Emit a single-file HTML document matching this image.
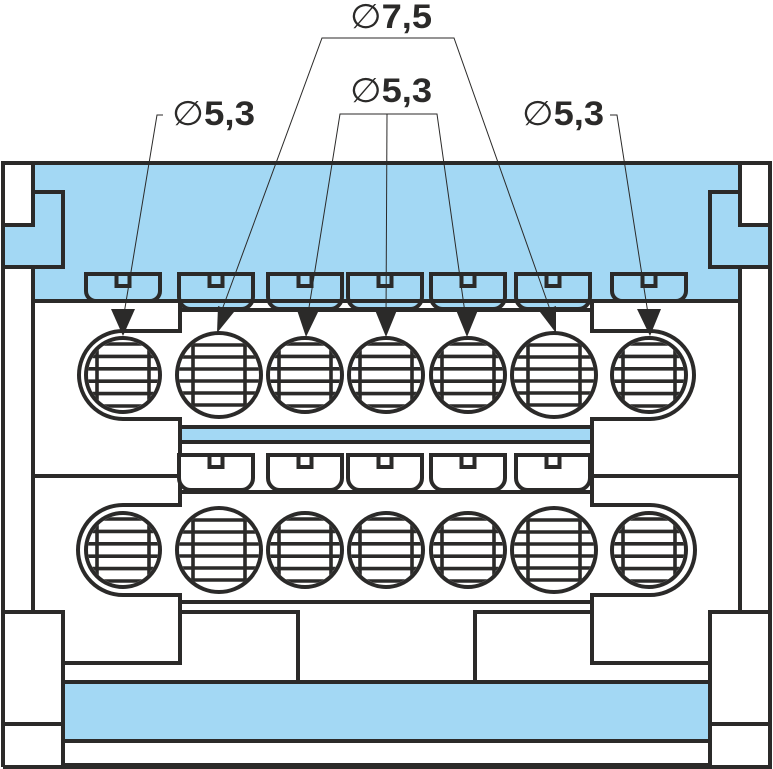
<!DOCTYPE html>
<html><head><meta charset="utf-8"><style>
html,body{margin:0;padding:0;background:#fff;}
svg{display:block;}
text{font-family:"Liberation Sans Narrow","Liberation Sans",sans-serif;font-weight:bold;fill:#2b2a29;}
</style></head><body>
<svg width="773" height="769" viewBox="0 0 773 769" xmlns="http://www.w3.org/2000/svg">
<defs>
<clipPath id="cs"><circle cx="0" cy="0" r="35"/></clipPath>
<clipPath id="cb"><circle cx="0" cy="0" r="40"/></clipPath>
<g id="hs">
 <circle cx="0" cy="0" r="37" fill="#fff" stroke="#2b2a29" stroke-width="4"/>
 <g clip-path="url(#cs)" stroke="#2b2a29" stroke-width="3.6">
  <line x1="-26" y1="-40" x2="-26" y2="40"/><line x1="26" y1="-40" x2="26" y2="40"/>
  <line x1="-40" y1="-31" x2="40" y2="-31"/><line x1="-40" y1="-18.6" x2="40" y2="-18.6"/>
  <line x1="-40" y1="-6.2" x2="40" y2="-6.2"/><line x1="-40" y1="6.2" x2="40" y2="6.2"/>
  <line x1="-40" y1="18.6" x2="40" y2="18.6"/><line x1="-40" y1="31" x2="40" y2="31"/>
 </g>
</g>
<g id="hb">
 <circle cx="0" cy="0" r="42" fill="#fff" stroke="#2b2a29" stroke-width="4"/>
 <g clip-path="url(#cb)" stroke="#2b2a29" stroke-width="3.6">
  <line x1="-26" y1="-45" x2="-26" y2="45"/><line x1="26" y1="-45" x2="26" y2="45"/>
  <line x1="-45" y1="-30" x2="45" y2="-30"/><line x1="-45" y1="-18" x2="45" y2="-18"/>
  <line x1="-45" y1="-6" x2="45" y2="-6"/><line x1="-45" y1="6" x2="45" y2="6"/>
  <line x1="-45" y1="18" x2="45" y2="18"/><line x1="-45" y1="30" x2="45" y2="30"/>
 </g>
</g>
<path id="tabS" d="M-37,0 H37 V17 A10,10 0 0 1 27,27 H-27 A10,10 0 0 1 -37,17 Z"/>
<path id="tabL" d="M-37,0 H37 V23 A12,12 0 0 1 25,35 H-25 A12,12 0 0 1 -37,23 Z"/>
<rect id="notch" x="-6.5" y="0" width="13" height="12"/>
</defs>

<rect x="3" y="163" width="767" height="138" fill="#a3d8f4"/>
<rect x="3" y="163" width="30" height="62" fill="#fff"/>
<rect x="740" y="163" width="30" height="62" fill="#fff"/>
<rect x="3" y="267" width="30" height="34" fill="#fff"/>
<rect x="740" y="267" width="30" height="34" fill="#fff"/>
<rect x="180" y="427" width="412" height="15" fill="#a3d8f4"/>
<rect x="63" y="682" width="647" height="59" fill="#a3d8f4"/>

<g fill="none" stroke="#2b2a29" stroke-width="4">
 <path d="M3,767 V163 H770 V767 H3"/>
 <path d="M33,163 V225 H3"/>
 <path d="M33,192 H63 V267 H3"/>
 <path d="M740,163 V225 H770"/>
 <path d="M740,192 H710 V267 H770"/>
 <line x1="33" y1="267" x2="33" y2="612"/>
 <line x1="740" y1="267" x2="740" y2="612"/>
 <line x1="33" y1="301" x2="740" y2="301"/>
 <line x1="180" y1="310" x2="592" y2="310"/>
 <path d="M180,301 V331 H123 A44,44 0 0 0 123,419 H180 V505 H123 A45,45 0 0 0 123,595 H180 V663 H63"/>
 <path d="M592,301 V331 H650 A44,44 0 0 1 650,419 H592 V505 H650 A45,45 0 0 1 650,595 H592 V663 H710"/>
 <line x1="180" y1="427" x2="592" y2="427"/>
 <line x1="180" y1="442" x2="592" y2="442"/>
 <line x1="33" y1="476" x2="180" y2="476"/>
 <line x1="592" y1="476" x2="740" y2="476"/>
 <line x1="180" y1="492" x2="592" y2="492"/>
 <line x1="180" y1="602" x2="592" y2="602"/>
 <path d="M180,612 H298 V682"/>
 <path d="M592,612 H475 V682"/>
 <path d="M3,612 H63 V767"/>
 <line x1="3" y1="724" x2="63" y2="724"/>
 <path d="M770,612 H710 V767"/>
 <line x1="710" y1="724" x2="770" y2="724"/>
 <line x1="63" y1="682" x2="710" y2="682"/>
 <line x1="63" y1="741" x2="710" y2="741"/>
 <line x1="63" y1="765" x2="710" y2="765"/>
</g>

<g fill="#a3d8f4" stroke="#2b2a29" stroke-width="4">
 <use href="#tabS" x="123" y="274"/>
 <use href="#tabL" x="216" y="274"/>
 <use href="#tabL" x="305" y="274"/>
 <use href="#tabL" x="385" y="274"/>
 <use href="#tabL" x="468" y="274"/>
 <use href="#tabL" x="553" y="274"/>
 <use href="#tabS" x="649" y="274"/>
 <use href="#notch" x="123" y="274"/><use href="#notch" x="216" y="274"/><use href="#notch" x="305" y="274"/>
 <use href="#notch" x="385" y="274"/><use href="#notch" x="468" y="274"/><use href="#notch" x="553" y="274"/><use href="#notch" x="649" y="274"/>
</g>
<line x1="33" y1="301" x2="740" y2="301" stroke="#2b2a29" stroke-width="4"/>
<g fill="#fff" stroke="#2b2a29" stroke-width="4">
 <use href="#tabL" x="216" y="455"/>
 <use href="#tabL" x="305" y="455"/>
 <use href="#tabL" x="385" y="455"/>
 <use href="#tabL" x="468" y="455"/>
 <use href="#tabL" x="553" y="455"/>
 <use href="#notch" x="216" y="455"/><use href="#notch" x="305" y="455"/><use href="#notch" x="385" y="455"/>
 <use href="#notch" x="468" y="455"/><use href="#notch" x="553" y="455"/>
</g>

<use href="#hs" x="123" y="375"/><use href="#hb" x="219" y="375"/><use href="#hs" x="305" y="375"/>
<use href="#hs" x="386" y="375"/><use href="#hs" x="468" y="375"/><use href="#hb" x="554" y="375"/><use href="#hs" x="649" y="375"/>
<use href="#hs" x="123" y="550"/><use href="#hb" x="219" y="550"/><use href="#hs" x="305" y="550"/>
<use href="#hs" x="386" y="550"/><use href="#hs" x="468" y="550"/><use href="#hb" x="554" y="550"/><use href="#hs" x="649" y="550"/>

<g fill="none" stroke="#2b2a29" stroke-width="1">
 <path d="M163,115 H157 L123,320"/>
 <path d="M219,318 L322,38 H454 L553,318"/>
 <path d="M307,320 L340,114 H437 L466,320"/>
 <line x1="387" y1="114" x2="386" y2="320"/>
 <path d="M610,115 H617 L649,320"/>
</g>
<g fill="#2b2a29">
 <path d="M111,309 L135,309 L123,336 Z"/>
 <path d="M218,306 L234,312 L217,333 Z"/>
 <path d="M297,310 L319,310 L306,337 Z"/>
 <path d="M375,310 L397,310 L386,337 Z"/>
 <path d="M456,310 L478,310 L467,337 Z"/>
 <path d="M540,312 L556,306 L556,333 Z"/>
 <path d="M637,309 L661,309 L650,336 Z"/>
</g>

<text x="350" y="28" font-size="34" textLength="82" lengthAdjust="spacingAndGlyphs"><tspan font-weight="normal">∅</tspan>7,5</text>
<text x="350" y="102" font-size="34" textLength="82" lengthAdjust="spacingAndGlyphs"><tspan font-weight="normal">∅</tspan>5,3</text>
<text x="172" y="125" font-size="34" textLength="83" lengthAdjust="spacingAndGlyphs"><tspan font-weight="normal">∅</tspan>5,3</text>
<text x="522" y="125" font-size="34" textLength="82" lengthAdjust="spacingAndGlyphs"><tspan font-weight="normal">∅</tspan>5,3</text>
</svg>
</body></html>
